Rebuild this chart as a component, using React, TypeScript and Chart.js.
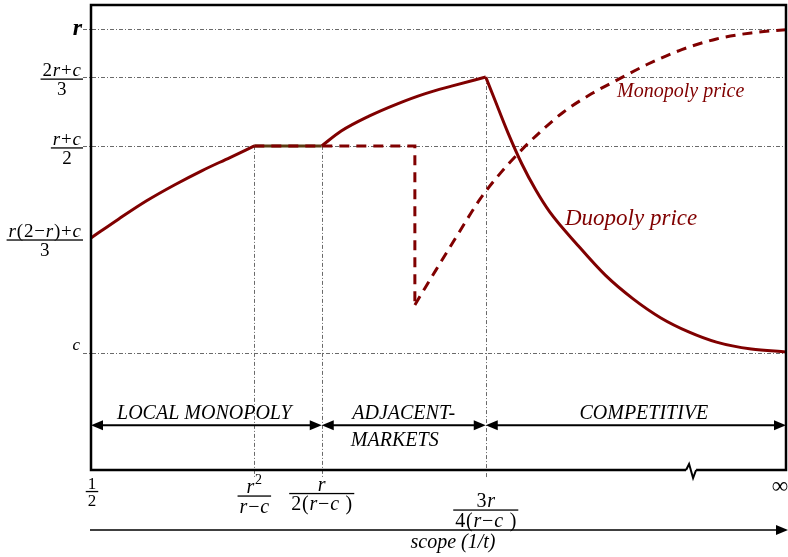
import { useEffect, useRef } from "react";
import { Chart, registerables } from "chart.js";

Chart.register(...registerables);

const SERIF = '"Liberation Serif", "Times New Roman", Times, serif';
const DARK_RED = "#800000";
const FLAT_BROWN = "#5c3d12";

// ---- price levels (vertical axis) ----
const yTickValues = [94.8, 84.5, 69.7, 49.9, 25.2];
const yTickNumerators = ["r", "2r+c", "r+c", "r(2−r)+c", "c"];
const yTickDenominators = ["", "3", "2", "3", ""];
const yGuideValues = [94.8, 84.5, 69.7, 25.2];

// ---- scope thresholds (horizontal axis) ----
const xTickValues = [0, 23.5, 33.2, 56.8, 100];
const xTickNumerators = ["1", "r^2", "r", "3r", "∞"];
const xTickDenominators = ["2", "r−c", "2(r−c )", "4(r−c )", ""];
const xGuideValues = [23.5, 33.2, 56.8];
const xGuideTops = [69.7, 69.7, 84.5];

// ---- regimes ----
const regionBounds = [0, 33.2, 56.8, 100];
const regionNames = [["LOCAL MONOPOLY"], ["ADJACENT-", "MARKETS"], ["COMPETITIVE"]];
const regionArrowLevel = 9.6;

// ---- duopoly price (solid) ----
const duoLocalX = [0, 4, 8, 12, 16, 20, 23.5];
const duoLocalY = [49.9, 54.0, 57.9, 61.3, 64.4, 67.2, 69.7];
const duoFlatX = [23.5, 33.2];
const duoFlatY = [69.7, 69.7];
const duoAdjX = [33.2, 36, 40, 44, 48, 52, 56.8];
const duoAdjY = [69.7, 72.9, 76.1, 78.7, 80.9, 82.6, 84.5];
const duoCompX = [56.8, 58, 60, 62, 64, 66, 70, 74, 78, 82, 86, 90, 95, 100];
const duoCompY = [84.5, 80.0, 72.5, 65.8, 60.2, 55.5, 48.4, 41.9, 36.8, 32.7, 29.7, 27.5, 26.0, 25.4];

// ---- monopoly price (dashed) ----
const monoFlatX = [23.5, 46.6, 46.6];
const monoFlatY = [69.7, 69.7, 35.5];
const monoRiseX = [46.6, 48, 50, 53, 56, 59, 62, 65, 68, 72, 76, 80, 85, 90, 95, 100];
const monoRiseY = [35.5, 39.0, 43.9, 51.2, 58.3, 64.0, 68.9, 73.2, 77.0, 80.9, 84.1, 87.2, 90.4, 92.7, 94.0, 94.7];

const curveLabelText = ["Monopoly price", "Duopoly price"];
const curveLabelX = [75.7, 68.2];
const curveLabelY = [80.2, 52.7];

const pts = (xs: number[], ys: number[]) => xs.map((x, i) => ({ x, y: ys[i] }));

type Tok = { ch: string; italic: boolean; sup: boolean };
const parse = (s: string): Tok[] => {
  const out: Tok[] = [];
  let sup = false;
  for (const ch of s) {
    if (ch === "^") {
      sup = true;
      continue;
    }
    out.push({ ch, italic: /[a-zA-Z]/.test(ch), sup });
    sup = false;
  }
  return out;
};

const TRACK = 0.8; // extra spacing between math glyphs

const tokFont = (t: Tok, size: number, bold = false) =>
  `${t.italic ? "italic " : ""}${bold ? "bold " : ""}${t.sup ? Math.round(size * 0.72) : size}px ${SERIF}`;

const measureRich = (ctx: CanvasRenderingContext2D, s: string, size: number, bold = false) => {
  const toks = parse(s);
  let w = 0;
  for (const t of toks) {
    ctx.font = tokFont(t, size, bold);
    w += ctx.measureText(t.ch).width + TRACK;
  }
  return w - TRACK;
};

const drawRich = (
  ctx: CanvasRenderingContext2D,
  s: string,
  x: number,
  y: number,
  size: number,
  align: "left" | "center" | "right",
  bold = false
) => {
  const w = measureRich(ctx, s, size, bold);
  let cx = align === "center" ? x - w / 2 : align === "right" ? x - w : x;
  ctx.textAlign = "left";
  ctx.textBaseline = "alphabetic";
  for (const t of parse(s)) {
    ctx.font = tokFont(t, size, bold);
    ctx.fillText(t.ch, cx, y - (t.sup ? size * 0.45 : 0));
    cx += ctx.measureText(t.ch).width + TRACK;
  }
};

const drawFrac = (
  ctx: CanvasRenderingContext2D,
  num: string,
  den: string,
  anchorX: number,
  barY: number,
  size: number,
  align: "center" | "right"
) => {
  const bw = Math.max(measureRich(ctx, num, size), measureRich(ctx, den, size)) + 4;
  const cx = align === "center" ? anchorX : anchorX - bw / 2;
  drawRich(ctx, num, cx, barY - 3, size, "center");
  drawRich(ctx, den, cx, barY + size * 0.84, size, "center");
  ctx.fillRect(cx - bw / 2, barY - 0.6, bw, 1.3);
};

const arrowHead = (ctx: CanvasRenderingContext2D, tipX: number, y: number, dir: 1 | -1) => {
  ctx.beginPath();
  ctx.moveTo(tipX, y);
  ctx.lineTo(tipX - dir * 12, y - 5);
  ctx.lineTo(tipX - dir * 12, y + 5);
  ctx.closePath();
  ctx.fill();
};

const diagramPlugin = {
  id: "diagram",
  beforeDatasetsDraw(chart: any) {
    const { ctx, chartArea: a, scales } = chart;
    const xs = scales.x;
    const ys = scales.y;
    ctx.save();
    ctx.strokeStyle = "#6a6a6a";
    ctx.lineWidth = 1;
    ctx.setLineDash([4, 2, 1, 2]);
    for (const v of yGuideValues) {
      const py = Math.round(ys.getPixelForValue(v)) + 0.5;
      ctx.beginPath();
      ctx.moveTo(a.left - 8, py);
      ctx.lineTo(a.right, py);
      ctx.stroke();
    }
    xGuideValues.forEach((v, i) => {
      const px = Math.round(xs.getPixelForValue(v)) + 0.5;
      ctx.beginPath();
      ctx.moveTo(px, ys.getPixelForValue(xGuideTops[i]));
      ctx.lineTo(px, a.bottom + 8);
      ctx.stroke();
    });
    ctx.restore();
  },
  afterDraw(chart: any) {
    const { ctx, chartArea: a, scales } = chart;
    const xs = scales.x;
    const ys = scales.y;
    ctx.save();
    ctx.fillStyle = "#000";
    ctx.strokeStyle = "#000";

    // frame with a break on the bottom edge
    const brk = xs.getPixelForValue(86.2);
    ctx.lineWidth = 2.5;
    ctx.beginPath();
    ctx.moveTo(brk - 4, a.bottom);
    ctx.lineTo(a.left, a.bottom);
    ctx.lineTo(a.left, a.top);
    ctx.lineTo(a.right, a.top);
    ctx.lineTo(a.right, a.bottom);
    ctx.lineTo(brk + 6, a.bottom);
    ctx.stroke();
    ctx.lineWidth = 2;
    ctx.beginPath();
    ctx.moveTo(brk - 4, a.bottom);
    ctx.lineTo(brk - 1, a.bottom - 6);
    ctx.lineTo(brk + 3, a.bottom + 8);
    ctx.lineTo(brk + 6, a.bottom);
    ctx.stroke();

    // regime arrows and names
    const ay = ys.getPixelForValue(regionArrowLevel);
    for (let i = 0; i < regionNames.length; i++) {
      const x1 = xs.getPixelForValue(regionBounds[i]);
      const x2 = xs.getPixelForValue(regionBounds[i + 1]);
      ctx.lineWidth = 2;
      ctx.beginPath();
      ctx.moveTo(x1 + 6, ay);
      ctx.lineTo(x2 - 6, ay);
      ctx.stroke();
      arrowHead(ctx, x1, ay, -1);
      arrowHead(ctx, x2, ay, 1);
      ctx.font = `italic 20px ${SERIF}`;
      ctx.textAlign = "center";
      ctx.textBaseline = "alphabetic";
      const mid = (x1 + x2) / 2;
      regionNames[i].forEach((line, j) => {
        ctx.fillText(line, mid + (i === 2 ? 8 : i === 1 ? 0 : -2) - (j === 1 ? 9 : 0), ay - 6 + j * 27);
      });
    }

    // vertical tick labels
    yTickValues.forEach((v, i) => {
      const py = ys.getPixelForValue(v);
      const num = yTickNumerators[i];
      const den = yTickDenominators[i];
      if (!den) {
        if (num === "r") drawRich(ctx, num, a.left - 9, py + 6, 24, "right", true);
        else drawRich(ctx, num, a.left - 11, py - 3, 17, "right");
      } else {
        drawFrac(ctx, num, den, a.left - 8, py + 2, 19, "right");
      }
    });

    // horizontal tick labels
    const xBarY = [491.5, 496, 493.5, 510, 0];
    xTickValues.forEach((v, i) => {
      const px = xs.getPixelForValue(v);
      const num = xTickNumerators[i];
      const den = xTickDenominators[i];
      if (!den) {
        ctx.font = `23px ${SERIF}`;
        ctx.textAlign = "center";
        ctx.fillText(num, px - 6, a.bottom + 23);
      } else if (i === 0) {
        drawFrac(ctx, num, den, px + 1, xBarY[i], 17, "center");
      } else {
        drawFrac(ctx, num, den, px, xBarY[i], 20, "center");
      }
    });

    // scope axis arrow
    const sy = 530;
    ctx.lineWidth = 1.5;
    ctx.beginPath();
    ctx.moveTo(a.left - 1, sy);
    ctx.lineTo(a.right - 4, sy);
    ctx.stroke();
    arrowHead(ctx, a.right + 2, sy, 1);
    ctx.font = `italic 20px ${SERIF}`;
    ctx.textAlign = "center";
    ctx.fillText("scope (1/t)", 453, 548);

    // curve names
    ctx.fillStyle = DARK_RED;
    ctx.textAlign = "left";
    curveLabelText.forEach((t, i) => {
      ctx.font = `italic ${i === 0 ? 20 : 23}px ${SERIF}`;
      ctx.fillText(t, xs.getPixelForValue(curveLabelX[i]), ys.getPixelForValue(curveLabelY[i]));
    });
    ctx.restore();
  },
};

export default function App() {
  const canvasRef = useRef<HTMLCanvasElement | null>(null);

  useEffect(() => {
    document.body.style.margin = "0";
    const canvas = canvasRef.current;
    if (!canvas) return;

    const solid = (data: any[], color: string, order: number) => ({
      data,
      borderColor: color,
      borderWidth: 3,
      pointRadius: 0,
      showLine: true,
      fill: false,
      cubicInterpolationMode: "monotone" as const,
      order,
    });
    const dashed = (data: any[], order: number, straight = false) => ({
      data,
      borderColor: DARK_RED,
      borderWidth: 3,
      borderDash: [10, 7],
      pointRadius: 0,
      showLine: true,
      fill: false,
      tension: 0,
      cubicInterpolationMode: straight ? ("default" as const) : ("monotone" as const),
      order,
    });

    const chart = new Chart(canvas, {
      type: "scatter",
      data: {
        datasets: [
          dashed(pts(monoFlatX, monoFlatY), 0, true),
          dashed(pts(monoRiseX, monoRiseY), 1),
          solid(pts(duoLocalX, duoLocalY), DARK_RED, 2),
          solid(pts(duoAdjX, duoAdjY), DARK_RED, 3),
          solid(pts(duoCompX, duoCompY), DARK_RED, 4),
          solid(pts(duoFlatX, duoFlatY), FLAT_BROWN, 5),
        ] as any,
      },
      options: {
        responsive: false,
        animation: false,
        events: [],
        layout: { padding: { left: 91, top: 5, right: 2, bottom: 87 } },
        scales: {
          x: { type: "linear", min: 0, max: 100, display: false },
          y: { type: "linear", min: 0, max: 100, display: false },
        },
        plugins: {
          legend: { display: false },
          tooltip: { enabled: false },
        },
      },
      plugins: [diagramPlugin],
    });
    return () => chart.destroy();
  }, []);

  return (
    <div style={{ width: 788, height: 557, background: "#fff" }}>
      <canvas ref={canvasRef} width={788} height={557} />
    </div>
  );
}
